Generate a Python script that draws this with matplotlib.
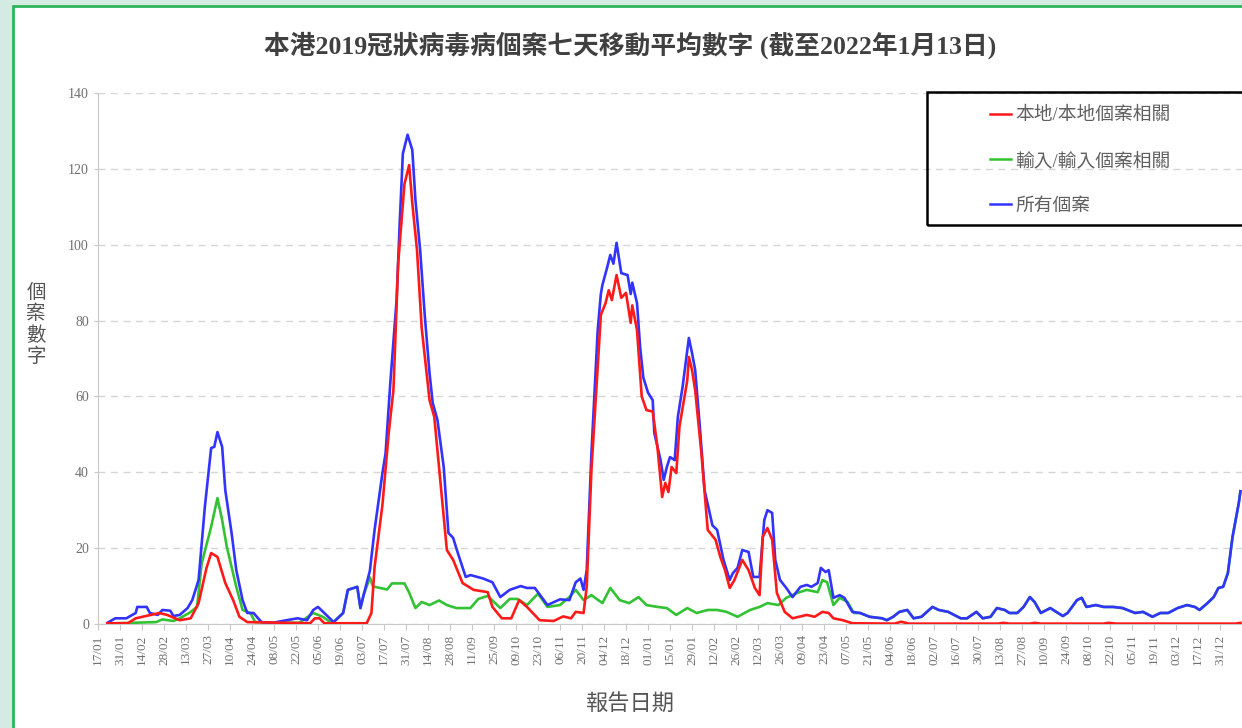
import numpy as np
import pandas as pd
import matplotlib
matplotlib.use("Agg")
import matplotlib.pyplot as plt
import matplotlib.dates as mdates
from matplotlib.patches import Rectangle
from matplotlib.lines import Line2D

# 所有個案 (7-day average)
all_dates = ["2020-01-23", "2020-01-28", "2020-02-04", "2020-02-10", "2020-02-11", "2020-02-17",
             "2020-02-19", "2020-02-24", "2020-02-27", "2020-03-03", "2020-03-05", "2020-03-09",
             "2020-03-14", "2020-03-17", "2020-03-21", "2020-03-25", "2020-03-29", "2020-03-31",
             "2020-04-02", "2020-04-05", "2020-04-07", "2020-04-11", "2020-04-14", "2020-04-18",
             "2020-04-21", "2020-04-25", "2020-04-30", "2020-05-07", "2020-05-16", "2020-05-23",
             "2020-05-29", "2020-06-02", "2020-06-05", "2020-06-09", "2020-06-15", "2020-06-21",
             "2020-06-24", "2020-06-30", "2020-07-02", "2020-07-04", "2020-07-08", "2020-07-11",
             "2020-07-16", "2020-07-18", "2020-07-21", "2020-07-25", "2020-07-27", "2020-07-29",
             "2020-08-01", "2020-08-04", "2020-08-06", "2020-08-09", "2020-08-12", "2020-08-15",
             "2020-08-17", "2020-08-20", "2020-08-24", "2020-08-27", "2020-08-30", "2020-09-02",
             "2020-09-07", "2020-09-10", "2020-09-18", "2020-09-24", "2020-09-29", "2020-10-05",
             "2020-10-12", "2020-10-16", "2020-10-21", "2020-10-29", "2020-11-06", "2020-11-12",
             "2020-11-16", "2020-11-19", "2020-11-21", "2020-11-23", "2020-11-26", "2020-11-30",
             "2020-12-02", "2020-12-03", "2020-12-06", "2020-12-08", "2020-12-10", "2020-12-12",
             "2020-12-15", "2020-12-19", "2020-12-21", "2020-12-22", "2020-12-25", "2020-12-27",
             "2020-12-29", "2021-01-01", "2021-01-04", "2021-01-05", "2021-01-09", "2021-01-11",
             "2021-01-13", "2021-01-15", "2021-01-18", "2021-01-20", "2021-01-23", "2021-01-27",
             "2021-01-29", "2021-01-31", "2021-02-03", "2021-02-06", "2021-02-11", "2021-02-14",
             "2021-02-18", "2021-02-22", "2021-02-24", "2021-02-27", "2021-03-02", "2021-03-06",
             "2021-03-09", "2021-03-13", "2021-03-16", "2021-03-18", "2021-03-21", "2021-03-23",
             "2021-03-26", "2021-03-30", "2021-04-03", "2021-04-08", "2021-04-12", "2021-04-15",
             "2021-04-19", "2021-04-21", "2021-04-24", "2021-04-26", "2021-04-29", "2021-05-03",
             "2021-05-06", "2021-05-11", "2021-05-16", "2021-05-22", "2021-05-30", "2021-06-02",
             "2021-06-06", "2021-06-10", "2021-06-15", "2021-06-19", "2021-06-24", "2021-07-01",
             "2021-07-05", "2021-07-11", "2021-07-19", "2021-07-23", "2021-07-29", "2021-08-02",
             "2021-08-07", "2021-08-11", "2021-08-16", "2021-08-19", "2021-08-24", "2021-08-28",
             "2021-09-01", "2021-09-04", "2021-09-08", "2021-09-14", "2021-09-22", "2021-09-25",
             "2021-10-01", "2021-10-04", "2021-10-07", "2021-10-13", "2021-10-18", "2021-10-24",
             "2021-10-30", "2021-11-07", "2021-11-12", "2021-11-18", "2021-11-23", "2021-11-28",
             "2021-12-04", "2021-12-10", "2021-12-15", "2021-12-18", "2021-12-23", "2021-12-27",
             "2021-12-30", "2022-01-02", "2022-01-05", "2022-01-08", "2022-01-12", "2022-01-13"]
all_cases = [0.3, 1.5, 1.5, 2.9, 4.5, 4.5,
             2.9, 2.4, 3.7, 3.5, 2.1, 2.4,
             4.2, 6.3, 11.6, 30.9, 46.4, 46.7,
             50.6, 46.7, 35.3, 24.0, 14.2, 6.3,
             2.9, 2.9, 0.5, 0.3, 1.0, 1.5,
             1.0, 3.7, 4.5, 2.9, 0.5, 2.9,
             9.0, 9.8, 4.2, 7.6, 14.0, 24.8,
             39.8, 45.0, 63.5, 85.4, 105.7, 124.0,
             129.0, 125.0, 111.8, 98.6, 81.0, 66.0,
             58.3, 53.8, 41.4, 24.0, 22.7, 18.7,
             12.4, 12.9, 12.0, 11.0, 7.1, 9.0,
             10.0, 9.5, 9.5, 5.0, 6.5, 6.3,
             11.0, 12.0, 9.0, 14.2, 45.0, 77.5,
             87.0, 89.4, 94.0, 97.3, 95.0, 100.5,
             92.5, 92.0, 87.0, 90.0, 84.6, 73.0,
             65.0, 61.0, 59.0, 50.4, 43.2, 38.0,
             41.4, 44.0, 43.2, 54.6, 62.5, 75.4,
             71.5, 67.0, 52.0, 35.3, 26.0, 24.8,
             17.0, 11.6, 13.4, 14.8, 19.5, 19.0,
             12.4, 12.4, 27.4, 30.0, 29.3, 16.9,
             11.6, 9.5, 7.1, 9.8, 10.3, 9.8,
             10.8, 14.8, 13.7, 14.2, 6.9, 7.6,
             6.9, 3.2, 2.9, 1.9, 1.5, 1.0,
             1.9, 3.2, 3.7, 1.5, 1.9, 4.5,
             3.7, 3.2, 1.5, 1.5, 3.2, 1.5,
             1.9, 4.2, 3.7, 2.9, 2.9, 4.5,
             7.1, 5.8, 2.9, 4.2, 2.1, 2.9,
             6.3, 6.9, 4.5, 5.0, 4.5, 4.5,
             4.2, 2.9, 3.2, 1.9, 2.9, 2.9,
             4.2, 5.0, 4.5, 3.7, 5.5, 7.1,
             9.5, 9.8, 13.4, 23.0, 32.0, 35.0]

# 本地/本地個案相關
local_dates = ["2020-01-23", "2020-02-05", "2020-02-10", "2020-02-25", "2020-03-01", "2020-03-06",
               "2020-03-09", "2020-03-16", "2020-03-21", "2020-03-26", "2020-03-29", "2020-04-02",
               "2020-04-07", "2020-04-12", "2020-04-16", "2020-04-21", "2020-05-31", "2020-06-03",
               "2020-06-06", "2020-06-09", "2020-07-06", "2020-07-09", "2020-07-11", "2020-07-16",
               "2020-07-20", "2020-07-23", "2020-07-26", "2020-07-30", "2020-08-02", "2020-08-04",
               "2020-08-07", "2020-08-10", "2020-08-15", "2020-08-18", "2020-08-21", "2020-08-26",
               "2020-08-30", "2020-09-05", "2020-09-12", "2020-09-21", "2020-09-24", "2020-09-30",
               "2020-10-06", "2020-10-11", "2020-10-16", "2020-10-24", "2020-11-02", "2020-11-08",
               "2020-11-13", "2020-11-16", "2020-11-21", "2020-11-23", "2020-11-26", "2020-12-02",
               "2020-12-05", "2020-12-07", "2020-12-09", "2020-12-12", "2020-12-15", "2020-12-18",
               "2020-12-21", "2020-12-22", "2020-12-25", "2020-12-28", "2020-12-31", "2021-01-04",
               "2021-01-07", "2021-01-10", "2021-01-12", "2021-01-14", "2021-01-16", "2021-01-19",
               "2021-01-21", "2021-01-26", "2021-01-27", "2021-01-29", "2021-01-31", "2021-02-04",
               "2021-02-08", "2021-02-13", "2021-02-16", "2021-02-19", "2021-02-22", "2021-02-25",
               "2021-03-02", "2021-03-06", "2021-03-10", "2021-03-13", "2021-03-15", "2021-03-18",
               "2021-03-21", "2021-03-24", "2021-03-29", "2021-04-03", "2021-04-12", "2021-04-17",
               "2021-04-22", "2021-04-26", "2021-04-29", "2021-05-05", "2021-05-11", "2021-06-07",
               "2021-06-11", "2021-06-16", "2021-08-12", "2021-08-15", "2021-08-19", "2021-09-01",
               "2021-09-04", "2021-09-08", "2021-10-18", "2021-10-21", "2021-10-26", "2022-01-10",
               "2022-01-13"]
local_cases = [0.2, 0.2, 1.5, 2.9, 2.4, 1.5,
               1.0, 1.5, 5.5, 14.7, 18.7, 17.7,
               10.8, 6.3, 1.9, 0.5, 0.2, 1.5,
               1.5, 0.2, 0.2, 2.9, 15.0, 31.4,
               50.4, 61.7, 95.0, 116.0, 121.0, 111.0,
               98.6, 78.0, 59.0, 54.6, 41.4, 19.5,
               16.9, 10.8, 9.0, 8.4, 4.5, 1.5,
               1.5, 6.3, 4.5, 1.0, 0.8, 2.0,
               1.5, 3.2, 2.9, 9.8, 40.6, 81.5,
               84.6, 88.0, 85.4, 92.0, 86.0, 87.3,
               79.4, 84.0, 77.5, 60.0, 56.4, 56.0,
               46.7, 33.5, 37.2, 34.8, 41.4, 39.8,
               52.0, 64.3, 70.4, 67.0, 61.7, 45.0,
               24.8, 22.2, 17.7, 14.2, 9.5, 11.6,
               16.9, 14.2, 9.5, 7.6, 23.0, 25.3,
               22.2, 8.2, 3.2, 1.5, 2.4, 1.9,
               3.2, 2.9, 1.5, 1.0, 0.2, 0.1,
               0.6, 0.1, 0.1, 0.3, 0.1, 0.1,
               0.3, 0.1, 0.1, 0.3, 0.1, 0.1,
               0.3]

# 輸入/輸入個案相關
import_dates = ["2020-01-29", "2020-02-23", "2020-02-27", "2020-03-05", "2020-03-09", "2020-03-15",
                "2020-03-20", "2020-03-23", "2020-03-29", "2020-04-02", "2020-04-05", "2020-04-08",
                "2020-04-14", "2020-04-18", "2020-04-23", "2020-04-26", "2020-05-24", "2020-06-02",
                "2020-06-08", "2020-06-14", "2020-06-21", "2020-06-24", "2020-06-30", "2020-07-02",
                "2020-07-04", "2020-07-08", "2020-07-10", "2020-07-19", "2020-07-22", "2020-07-30",
                "2020-08-02", "2020-08-06", "2020-08-10", "2020-08-15", "2020-08-21", "2020-08-26",
                "2020-09-01", "2020-09-10", "2020-09-15", "2020-09-21", "2020-09-29", "2020-10-05",
                "2020-10-10", "2020-10-16", "2020-10-23", "2020-10-29", "2020-11-06", "2020-11-12",
                "2020-11-16", "2020-11-21", "2020-11-26", "2020-12-03", "2020-12-08", "2020-12-14",
                "2020-12-20", "2020-12-26", "2020-12-31", "2021-01-07", "2021-01-13", "2021-01-19",
                "2021-01-26", "2021-02-01", "2021-02-08", "2021-02-14", "2021-02-20", "2021-02-27",
                "2021-03-07", "2021-03-13", "2021-03-18", "2021-03-25", "2021-03-30", "2021-04-06",
                "2021-04-12", "2021-04-19", "2021-04-22", "2021-04-25", "2021-04-29", "2021-05-03",
                "2021-05-08", "2021-05-12", "2021-05-16", "2021-05-22", "2021-05-30", "2021-06-02",
                "2021-06-06", "2021-06-10", "2021-06-15", "2021-06-19", "2021-06-24", "2021-07-01",
                "2021-07-05", "2021-07-11", "2021-07-19", "2021-07-23", "2021-07-29", "2021-08-02",
                "2021-08-07", "2021-08-11", "2021-08-16", "2021-08-19", "2021-08-24", "2021-08-28",
                "2021-09-01", "2021-09-04", "2021-09-08", "2021-09-14", "2021-09-22", "2021-09-25",
                "2021-10-01", "2021-10-04", "2021-10-07", "2021-10-13", "2021-10-18", "2021-10-24",
                "2021-10-30", "2021-11-07", "2021-11-12", "2021-11-18", "2021-11-23", "2021-11-28",
                "2021-12-04", "2021-12-10", "2021-12-15", "2021-12-18", "2021-12-23", "2021-12-27",
                "2021-12-30", "2022-01-02", "2022-01-05", "2022-01-08", "2022-01-12", "2022-01-13"]
import_cases = [0.2, 0.5, 1.2, 0.8, 1.5, 2.9,
                4.5, 16.0, 25.6, 33.2, 27.4, 20.3,
                9.8, 3.7, 2.9, 0.5, 0.3, 2.9,
                1.9, 0.2, 2.9, 9.0, 9.8, 4.2,
                7.6, 12.3, 9.9, 9.1, 10.7, 10.7,
                8.3, 4.2, 5.8, 5.0, 6.2, 5.0,
                4.2, 4.2, 6.6, 7.4, 4.2, 6.6,
                6.6, 5.0, 8.0, 4.5, 5.0, 7.1,
                9.0, 6.3, 7.6, 5.5, 9.5, 6.3,
                5.5, 7.1, 5.0, 4.5, 4.2, 2.4,
                4.2, 2.9, 3.7, 3.7, 3.2, 1.9,
                3.7, 4.5, 5.5, 5.0, 6.9, 8.2,
                9.0, 8.4, 11.6, 11.0, 5.0, 6.9,
                5.8, 2.9, 2.9, 1.9, 1.5, 1.0,
                1.9, 3.2, 3.7, 1.5, 1.9, 4.5,
                3.7, 3.2, 1.5, 1.5, 3.2, 1.5,
                1.9, 4.2, 3.7, 2.9, 2.9, 4.5,
                7.1, 5.8, 2.9, 4.2, 2.1, 2.9,
                6.3, 6.9, 4.5, 5.0, 4.5, 4.5,
                4.2, 2.9, 3.2, 1.9, 2.9, 2.9,
                4.2, 5.0, 4.5, 3.7, 5.5, 7.1,
                9.5, 9.8, 13.4, 23.0, 32.0, 35.0]

legend_labels = ["本地/本地個案相關", "輸入/輸入個案相關", "所有個案"]
line_colors = ["#ff1a1a", "#33c233", "#3333ff"]

W, H = 1242, 728
fig = plt.figure(figsize=(W / 100, H / 100), dpi=100)
fig.patch.set_facecolor("#d4ebe3")

# white panel with green border
fig.add_artist(Rectangle((13 / W, -0.05), 1.1, 1.05 - 6 / H, transform=fig.transFigure,
                         facecolor="white", edgecolor="#2db55d", lw=2, zorder=0))

ax = fig.add_axes([98 / W, 1 - 624 / H, 1 - 98 / W, 531 / H])
ax.set_facecolor("none")

x_all = pd.to_datetime(all_dates)
x_local = pd.to_datetime(local_dates)
x_imp = pd.to_datetime(import_dates)

ax.plot(x_imp, import_cases, color=line_colors[1], lw=1.9, zorder=3)
ax.plot(x_all, all_cases, color=line_colors[2], lw=1.9, zorder=4)
ax.plot(x_local, local_cases, color=line_colors[0], lw=1.9, zorder=5)

ax.set_ylim(0, 140)
ax.set_yticks(range(0, 141, 20))
ax.set_xlim(pd.Timestamp("2020-01-17"), pd.Timestamp("2022-01-14"))
ticks = pd.date_range("2020-01-17", "2021-12-31", freq="14D")
ax.set_xticks(ticks)
ax.xaxis.set_major_formatter(mdates.DateFormatter("%d/%m"))

ax.grid(axis="y", color="#d6d6d6", ls=(0, (5, 4)), lw=1)
ax.set_axisbelow(True)
for s in ["top", "right"]:
    ax.spines[s].set_visible(False)
for s in ["left", "bottom"]:
    ax.spines[s].set_color("#c8c8c8")

serif = ["Liberation Serif", "Noto Sans CJK TC"]
ax.tick_params(axis="x", labelrotation=90, labelsize=9.5, colors="#c8c8c8",
               labelcolor="#707070", length=4)
ax.tick_params(axis="y", labelsize=10, colors="#c8c8c8", labelcolor="#707070", length=3)
for lab in ax.get_xticklabels() + ax.get_yticklabels():
    lab.set_fontfamily(serif)

fig.text(630 / W, 1 - 45 / H, "本港2019冠狀病毒病個案七天移動平均數字 (截至2022年1月13日)",
         ha="center", va="center", fontsize=18.5, fontweight="bold", color="#404040",
         family=serif)
fig.text(630 / W, 1 - 704 / H, "報告日期", ha="center", va="center", fontsize=16,
         color="#555555", family=serif)
fig.text(36 / W, 1 - 325 / H, "個\n案\n數\n字", ha="center", va="center", fontsize=14,
         color="#555555", family=serif, linespacing=1.2)

# legend box
fig.add_artist(Rectangle((927 / W, 1 - 225 / H), 0.5, 133 / H, transform=fig.transFigure,
                         fill=False, edgecolor="black", lw=1.8, zorder=6))
handles = [Line2D([], [], color=c, lw=1.8) for c in line_colors]
leg = fig.legend(handles, legend_labels, loc="upper left",
                 bbox_to_anchor=(990 / W, 1 - 107 / H), frameon=False,
                 prop={"family": serif, "size": 13.5}, handlelength=1.1,
                 handletextpad=0.25, labelspacing=1.48, borderpad=0, borderaxespad=0)
for t in leg.get_texts():
    t.set_color("#606060")

fig.savefig("out.png", dpi=100, facecolor=fig.get_facecolor())
